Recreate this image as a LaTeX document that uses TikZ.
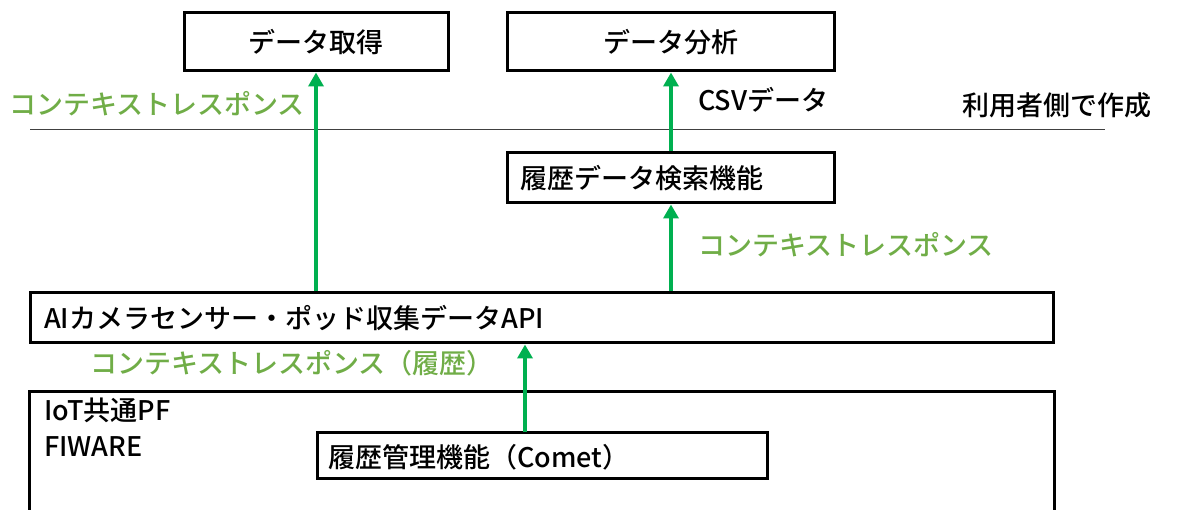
\documentclass[tikz,border=0pt]{standalone}
\usepackage{fontspec}
\setmainfont{Noto Sans CJK JP}[BoldFont=* Medium]
\usetikzlibrary{arrows.meta}
\definecolor{lgreen}{RGB}{112,173,71}
\definecolor{agreen}{RGB}{0,176,80}
\tikzset{
  box/.style={draw=black, line width=3pt, inner sep=0pt},
  lbl/.style={inner sep=0pt, anchor=west, font=\fontsize{27pt}{30pt}\selectfont\bfseries},
  glbl/.style={lbl, text=lgreen},
  arr/.style={draw=agreen, line width=4pt, -{Triangle[width=15pt,length=14pt]}},
  sep/.style={draw=black!75, line width=1pt}
}
\begin{document}
\begin{tikzpicture}[x=1pt,y=-1pt]
\useasboundingbox (0,0) rectangle (1186,510);
\clip (0,0) rectangle (1186,510);
% boxes
\node[box, minimum width=264pt, minimum height=58pt] (get) at (316,42) {};
\node[lbl, anchor=center] at (get.center) {データ取得};
\node[box, minimum width=327pt, minimum height=58pt] (ana) at (671,42) {};
\node[lbl, anchor=center] at (ana.center) {データ分析};
\node[box, minimum width=327pt, minimum height=50pt] (search) at (671,178) {};
\node[lbl] at (520,178) {履歴データ検索機能};
\node[box, minimum width=1023pt, minimum height=50pt] (api) at (542,318) {};
\node[lbl] at (44,318) {AIカメラセンサー・ポッド収集データAPI};
\node[box, minimum width=1025pt, minimum height=150pt] (iot) at (542,467) {};
\node[lbl] at (44,410) {IoT共通PF};
\node[lbl] at (44,447) {FIWARE};
\node[box, minimum width=450pt, minimum height=46pt] (comet) at (542,455) {};
\node[lbl] at (328,457) {履歴管理機能（Comet）};
% labels
\node[glbl] (g1) at (9,104) {コンテキストレスポンス};
\node[lbl] (csv) at (698,100) {CSVデータ};
\node[lbl] (user) at (962,105) {利用者側で作成};
\node[glbl] (g2) at (698,245) {コンテキストレスポンス};
\node[glbl] (g3) at (90,363) {コンテキストレスポンス（履歴）};
% separator
\coordinate (l1) at (30,130);
\coordinate (l2) at (1105,130);
\draw[sep] (l1) -- (l2);
% arrows
\draw[arr] (api.north -| get.south) -- (get.south);
\draw[arr] (search.north) -- (ana.south);
\draw[arr] (api.north -| search.south) -- (search.south);
\coordinate (c4) at (525,432);
\draw[arr] (c4) -- (c4 |- api.south);
\end{tikzpicture}
\end{document}
